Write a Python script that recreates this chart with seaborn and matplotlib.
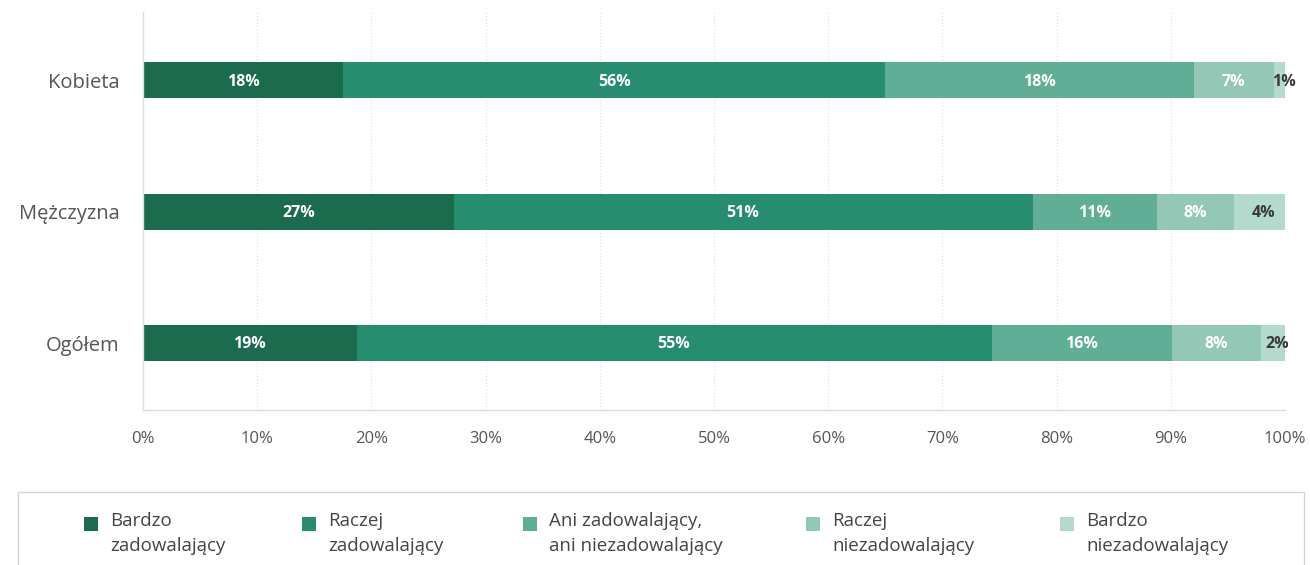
import numpy as np
import pandas as pd
import matplotlib.pyplot as plt
import seaborn as sns
from matplotlib.patches import Rectangle

# data
groups = ["Kobieta", "Mężczyzna", "Ogółem"]
answers = ["Bardzo\nzadowalający", "Raczej\nzadowalający",
           "Ani zadowalający,\nani niezadowalający",
           "Raczej\nniezadowalający", "Bardzo\nniezadowalający"]
# segment widths as drawn (%)
bardzo_zad = [17.5, 27.2, 18.7]
raczej_zad = [47.5, 50.7, 55.6]
ani = [27.0, 10.9, 15.8]
raczej_niezad = [7.0, 6.7, 7.8]
bardzo_niezad = [1.0, 4.5, 2.1]
# labels printed on the bars
labels = [["18%", "56%", "18%", "7%", "1%"],
          ["27%", "51%", "11%", "8%", "4%"],
          ["19%", "55%", "16%", "8%", "2%"]]

colors = ["#1b6b4e", "#268e6f", "#5fae95", "#94c8b6", "#b4dacb"]

sns.set_theme(style="white")
plt.rcParams["font.family"] = ["Open Sans", "DejaVu Sans"]

series = [bardzo_zad, raczej_zad, ani, raczej_niezad, bardzo_niezad]
df = pd.DataFrame(np.array(series).T, columns=answers)
df["group"] = groups
cum = df[answers].cumsum(axis=1)

fig = plt.figure(figsize=(13.1, 5.65), dpi=100)
ax = fig.add_axes([143 / 1310, 1 - 410 / 565, 1142 / 1310, 398 / 565])

# stacked bars: draw cumulative totals from the right-most segment down
for i in range(len(answers) - 1, -1, -1):
    sns.barplot(x=cum[answers[i]], y=df["group"], color=colors[i],
                orient="h", width=0.274, saturation=1, linewidth=0, ax=ax)

# value labels centred in each segment
for r in range(len(groups)):
    left = 0
    for i in range(len(answers)):
        w = df[answers[i]][r]
        last = i == len(answers) - 1
        ax.text(left + w / 2 + (0.4 if last else 0), r + 0.01, labels[r][i],
                ha="center", va="center", fontsize=11.5, fontweight="bold",
                color="#3a3a3a" if last else "white")
        left += w

ax.set_xlim(0, 100)
ax.set_ylim(2.51, -0.52)
ax.set_xticks(range(0, 101, 10))
ax.set_xticklabels([f"{t}%" for t in range(0, 101, 10)])
ax.set_xlabel("")
ax.set_ylabel("")
ax.grid(axis="x", color="#dddddd", linestyle=(0, (1, 2)), linewidth=0.8)
ax.set_axisbelow(True)
for s in ["top", "right"]:
    ax.spines[s].set_visible(False)
for s in ["left", "bottom"]:
    ax.spines[s].set_color("#dddddd")
    ax.spines[s].set_linewidth(1)
ax.tick_params(axis="x", colors="#555555", labelsize=12, length=0, pad=15)
ax.tick_params(axis="y", colors="#555555", labelsize=14.5, length=0, pad=17)

# legend box at the bottom
fig.add_artist(Rectangle((18 / 1310, -0.1), 1286 / 1310, 0.1 + 73 / 565,
                         transform=fig.transFigure, facecolor="none",
                         edgecolor="#d4d4d4", linewidth=1))
leg_x = [84, 302, 523, 806, 1060]
for i, name in enumerate(answers):
    fig.add_artist(Rectangle((leg_x[i] / 1310, 1 - 531 / 565), 14 / 1310, 14 / 565,
                             transform=fig.transFigure, facecolor=colors[i],
                             edgecolor="none"))
    fig.text((leg_x[i] + 26) / 1310, 1 - 512 / 565, name, ha="left", va="top",
             fontsize=13.5, color="#444444", linespacing=1.5)

plt.savefig("out.png", dpi=100)
plt.close()
